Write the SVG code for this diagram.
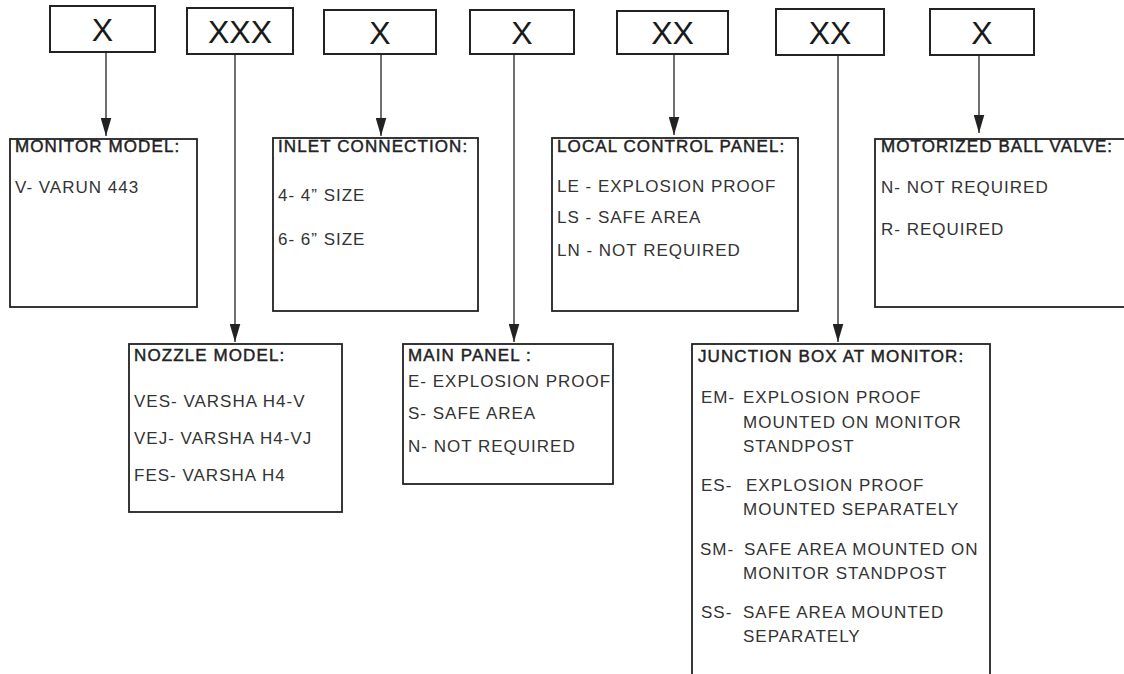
<svg xmlns="http://www.w3.org/2000/svg" width="1124" height="674" viewBox="0 0 1124 674">
<defs>
<marker id="ah" markerUnits="userSpaceOnUse" markerWidth="18" markerHeight="11" refX="17" refY="5" orient="auto" viewBox="0 0 17 10">
<path d="M0,0 L17,5 L0,10 z" fill="#222"/>
</marker>
<style>
.code{fill:#fff;stroke:#222;stroke-width:2}
.box{fill:#fff;stroke:#222;stroke-width:1.8}
.cx{font-family:"Liberation Sans",Arial,sans-serif;font-size:32px;fill:#1a1a1a;text-anchor:middle}
.h{font-family:"Liberation Sans",Arial,sans-serif;font-size:17px;letter-spacing:1.1px;fill:#222;stroke:#222;stroke-width:0.45px}
.t{font-family:"Liberation Sans",Arial,sans-serif;font-size:17px;letter-spacing:1px;fill:#333}
.ln{stroke:#333;stroke-width:1.4;fill:none}
</style>
</defs>
<rect width="1124" height="674" fill="#fff"/>

<g id="connectors">
<line class="ln" x1="106" y1="52" x2="106" y2="136" marker-end="url(#ah)"/>
<line class="ln" x1="235" y1="54" x2="235" y2="342" marker-end="url(#ah)"/>
<line class="ln" x1="381" y1="54" x2="381" y2="136" marker-end="url(#ah)"/>
<line class="ln" x1="514" y1="54" x2="514" y2="342" marker-end="url(#ah)"/>
<line class="ln" x1="674" y1="54" x2="674" y2="135" marker-end="url(#ah)"/>
<line class="ln" x1="838" y1="55" x2="838" y2="342" marker-end="url(#ah)"/>
<line class="ln" x1="979" y1="55" x2="979" y2="133" marker-end="url(#ah)"/>
</g>

<g id="code1"><rect class="code" x="50" y="6" width="105" height="46"/><text class="cx" x="102.5" y="41">X</text></g>
<g id="code2"><rect class="code" x="187" y="8" width="106" height="46"/><text class="cx" x="240" y="43">XXX</text></g>
<g id="code3"><rect class="code" x="324" y="10" width="112" height="44"/><text class="cx" x="380" y="44">X</text></g>
<g id="code4"><rect class="code" x="470" y="10" width="104" height="44"/><text class="cx" x="522" y="44">X</text></g>
<g id="code5"><rect class="code" x="617" y="11" width="111" height="43"/><text class="cx" x="672.5" y="44">XX</text></g>
<g id="code6"><rect class="code" x="776" y="9" width="108" height="46"/><text class="cx" x="830" y="44">XX</text></g>
<g id="code7"><rect class="code" x="930" y="9" width="104" height="46"/><text class="cx" x="982" y="44">X</text></g>

<g id="monitor-model">
<rect class="box" x="10" y="139" width="187" height="168"/>
<text class="h" x="15" y="152">MONITOR MODEL:</text>
<text class="t" x="15" y="193">V- VARUN 443</text>
</g>

<g id="inlet-connection">
<rect class="box" x="273" y="138" width="205" height="173"/>
<text class="h" x="278" y="152">INLET CONNECTION:</text>
<text class="t" x="278" y="201">4- 4” SIZE</text>
<text class="t" x="278" y="245">6- 6” SIZE</text>
</g>

<g id="local-control-panel">
<rect class="box" x="552" y="138" width="246" height="173"/>
<text class="h" x="557" y="152">LOCAL CONTROL PANEL:</text>
<text class="t" x="557" y="192">LE - EXPLOSION PROOF</text>
<text class="t" x="557" y="223">LS - SAFE AREA</text>
<text class="t" x="557" y="256">LN - NOT REQUIRED</text>
</g>

<g id="motorized-ball-valve">
<rect class="box" x="875" y="139" width="260" height="168"/>
<text class="h" x="881" y="152">MOTORIZED BALL VALVE:</text>
<text class="t" x="881" y="193">N- NOT REQUIRED</text>
<text class="t" x="881" y="235">R- REQUIRED</text>
</g>

<g id="nozzle-model">
<rect class="box" x="129" y="344" width="213" height="168"/>
<text class="h" x="134" y="361">NOZZLE MODEL:</text>
<text class="t" x="134" y="407">VES- VARSHA H4-V</text>
<text class="t" x="134" y="444">VEJ- VARSHA H4-VJ</text>
<text class="t" x="134" y="481">FES- VARSHA H4</text>
</g>

<g id="main-panel">
<rect class="box" x="403" y="344" width="210" height="140"/>
<text class="h" x="408" y="361">MAIN PANEL :</text>
<text class="t" x="408" y="387">E- EXPLOSION PROOF</text>
<text class="t" x="408" y="419">S- SAFE AREA</text>
<text class="t" x="408" y="452">N- NOT REQUIRED</text>
</g>

<g id="junction-box">
<rect class="box" x="692" y="344" width="298" height="345"/>
<text class="h" x="698" y="362">JUNCTION BOX AT MONITOR:</text>
<text class="t" y="403"><tspan x="701">EM-</tspan><tspan x="743">EXPLOSION PROOF</tspan></text>
<text class="t" x="743" y="428">MOUNTED ON MONITOR</text>
<text class="t" x="743" y="452">STANDPOST</text>
<text class="t" y="491"><tspan x="701">ES-</tspan><tspan x="746">EXPLOSION PROOF</tspan></text>
<text class="t" x="743" y="515">MOUNTED SEPARATELY</text>
<text class="t" y="555"><tspan x="700">SM-</tspan><tspan x="744">SAFE AREA MOUNTED ON</tspan></text>
<text class="t" x="743" y="579">MONITOR STANDPOST</text>
<text class="t" y="618"><tspan x="701">SS-</tspan><tspan x="743">SAFE AREA MOUNTED</tspan></text>
<text class="t" x="743" y="642">SEPARATELY</text>
</g>
</svg>
